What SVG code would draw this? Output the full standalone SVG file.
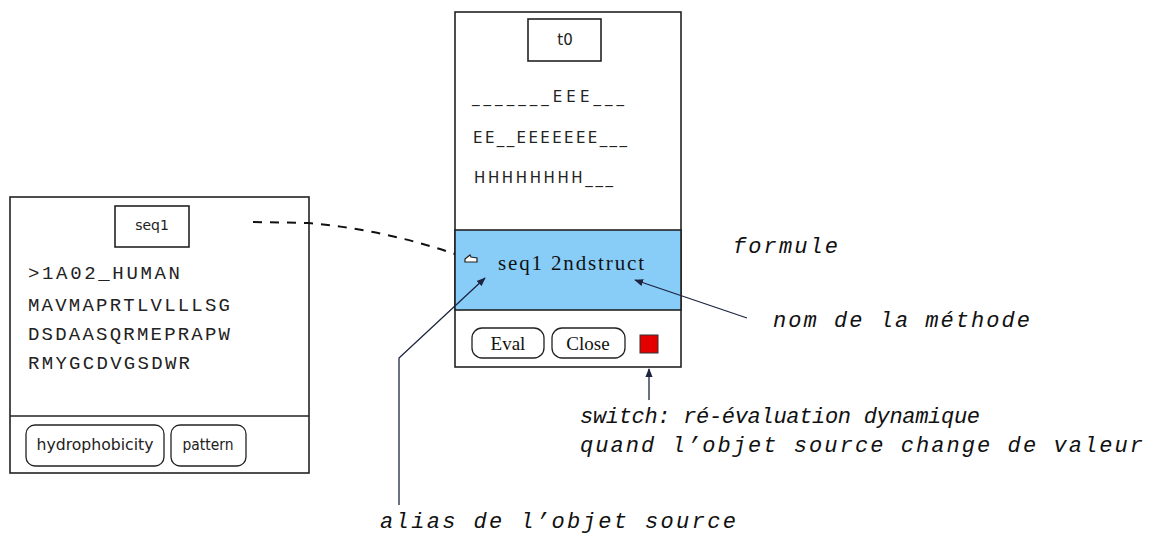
<svg xmlns="http://www.w3.org/2000/svg" width="1157" height="544" viewBox="0 0 1157 544">
<style>
.frame{fill:#fff;stroke:#222;stroke-width:1.6}
.sep{stroke:#222;stroke-width:1.6}
.btn{fill:#fff;stroke:#222;stroke-width:1.3}
.sans{font-family:"DejaVu Sans","Liberation Sans",sans-serif;fill:#222}
.serif{font-family:"Liberation Serif","Times New Roman",serif;fill:#111}
.mono{font-family:"Liberation Mono","Courier New",monospace;fill:#222}
.note{font-family:"Liberation Mono","Courier New",monospace;font-style:italic;font-size:22px;fill:#111}
.line{fill:none;stroke:#1c2440;stroke-width:1.3}
</style>
<defs>
<marker id="ah" viewBox="0 0 10 10" refX="9" refY="5" markerWidth="9" markerHeight="9" markerUnits="userSpaceOnUse" orient="auto">
<path d="M0,1 L10,5 L0,9 Z" fill="#1c2440"/>
</marker>
</defs>
<rect width="1157" height="544" fill="#fff"/>

<g id="seq1-window">
<rect class="frame" x="10" y="197" width="299" height="276"/>
<rect class="frame" x="115" y="206" width="74" height="41"/>
<text class="sans" x="152" y="230" font-size="14" text-anchor="middle">seq1</text>
<text class="mono" x="28" y="279" font-size="19" textLength="152" lengthAdjust="spacing">&gt;1A02_HUMAN</text>
<text class="mono" x="28" y="311" font-size="19" textLength="202" lengthAdjust="spacing">MAVMAPRTLVLLLSG</text>
<text class="mono" x="28" y="340" font-size="19" textLength="202" lengthAdjust="spacing">DSDAASQRMEPRAPW</text>
<text class="mono" x="28" y="369" font-size="19" textLength="162" lengthAdjust="spacing">RMYGCDVGSDWR</text>
<line class="sep" x1="10" y1="416" x2="309" y2="416"/>
<rect class="btn" x="26" y="425" width="138" height="41" rx="9"/>
<text class="sans" x="95" y="450" font-size="15" text-anchor="middle" textLength="117" lengthAdjust="spacingAndGlyphs">hydrophobicity</text>
<rect class="btn" x="171" y="425" width="75" height="41" rx="9"/>
<text class="sans" x="208" y="450" font-size="15" text-anchor="middle" textLength="51" lengthAdjust="spacingAndGlyphs">pattern</text>
</g>

<g id="t0-window">
<rect class="frame" x="455" y="12" width="226" height="355"/>
<rect x="455" y="230" width="226" height="80" fill="#88ccf8" stroke="#222" stroke-width="1.6"/>
<rect class="frame" x="528" y="19" width="73" height="42"/>
<text class="sans" x="565" y="45" font-size="15" text-anchor="middle">t0</text>
<text class="sans" x="472" y="102" font-size="15" textLength="152" lengthAdjust="spacing">_______EEE___</text>
<text class="sans" x="473" y="143" font-size="15" textLength="154" lengthAdjust="spacing">EE__EEEEEEE___</text>
<text class="sans" x="474" y="183" font-size="15" textLength="139" lengthAdjust="spacing">HHHHHHHH___</text>
<path d="M465,259 L470,255 L471,257 L477,258 L477,262 L465,262 Z" fill="#fff" stroke="#222" stroke-width="1.2"/>
<text class="serif" x="498" y="270" font-size="21" textLength="146" lengthAdjust="spacing">seq1 2ndstruct</text>
<rect class="btn" x="472" y="328" width="72" height="30" rx="10"/>
<text class="serif" x="508" y="350" font-size="19" text-anchor="middle">Eval</text>
<rect class="btn" x="552" y="328" width="73" height="30" rx="10"/>
<text class="serif" x="588" y="350" font-size="19" text-anchor="middle">Close</text>
<rect x="640" y="335" width="18" height="18" fill="#e50000" stroke="#333" stroke-width="1"/>
</g>

<g id="labels">
<text class="note" x="733" y="253" textLength="105" lengthAdjust="spacing">formule</text>
<text class="note" x="773" y="327" textLength="257" lengthAdjust="spacing">nom de la méthode</text>
<text class="note" x="580" y="423" textLength="400" lengthAdjust="spacing">switch: ré-évaluation dynamique</text>
<text class="note" x="580" y="452" textLength="563" lengthAdjust="spacing">quand l’objet source change de valeur</text>
<text class="note" x="380" y="528" textLength="356" lengthAdjust="spacing">alias de l’objet source</text>
</g>

<g id="connectors">
<path d="M253,222 L309,223 Q385,230 455,254" fill="none" stroke="#111" stroke-width="2" stroke-dasharray="9 8"/>
<path class="line" d="M747,318 L635,280" marker-end="url(#ah)"/>
<path class="line" d="M399,505 L399,358 L485,278" marker-end="url(#ah)"/>
<path class="line" d="M649,400 L649,369" marker-end="url(#ah)"/>
</g>
</svg>
